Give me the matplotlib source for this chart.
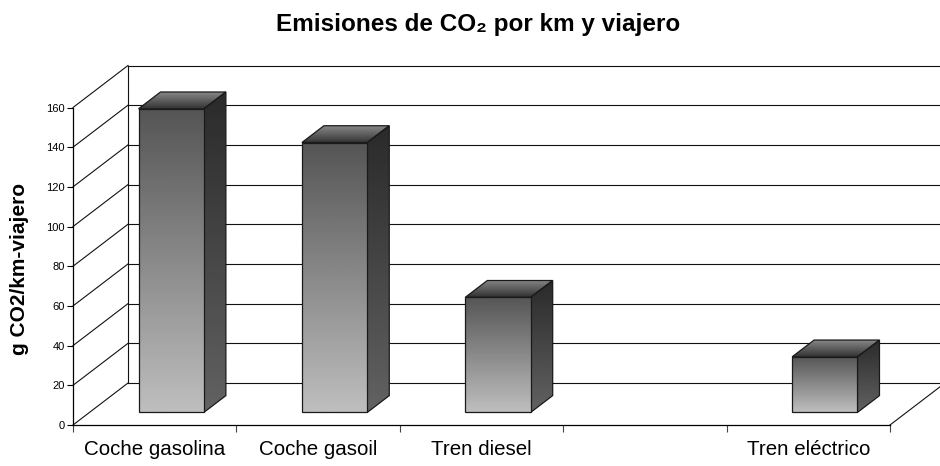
import numpy as np
import matplotlib
matplotlib.use("Agg")
import matplotlib.pyplot as plt
from matplotlib.patches import Polygon

plt.rcParams['font.family'] = ['Liberation Sans', 'DejaVu Sans']

categories = ["Coche gasolina", "Coche gasoil", "Tren diesel", "", "Tren eléctrico"]
values = [153, 136, 58, 0, 28]
yticks = [0, 20, 40, 60, 80, 100, 120, 140, 160]

W, H = 940, 466
fig = plt.figure(figsize=(W / 100, H / 100), dpi=100)
ax = fig.add_axes([73 / W, 1 - 425 / H, 817 / W, 317.5 / H])
ax.set_xlim(0, 5)
ax.set_ylim(0, 160)
ax.patch.set_alpha(0)

# depth of the 3d box in data units
dx = 55 / 163.4
dy = 42 / (317.5 / 160)
bar_w = 0.4


def shade(poly, x0, x1, y0, y1, c_top, c_bot, z):
    grad = np.linspace(c_top, c_bot, 128).reshape(-1, 1)
    im = ax.imshow(grad, extent=[x0, x1, y0, y1], cmap='gray', vmin=0, vmax=255,
                   aspect='auto', zorder=z, origin='upper')
    p = Polygon(poly, closed=True, transform=ax.transData, fc='none', ec='none')
    ax.add_patch(p)
    p.set_clip_on(False)
    im.set_clip_box(fig.bbox)
    im.set_clip_path(p)
    ax.add_patch(Polygon(poly, closed=True, fc='none', ec='#1a1a1a', lw=0.9,
                         zorder=z + 0.5, clip_on=False))


# walls and grid
for v in yticks:
    ax.plot([0, dx], [v, v + dy], color='#111111', lw=0.8, zorder=1, clip_on=False)
    ax.plot([dx, 5 + dx], [v + dy, v + dy], color='#111111', lw=0.8, zorder=1, clip_on=False)
ax.plot([dx, dx], [dy, 160 + dy], color='#111111', lw=0.8, zorder=1, clip_on=False)
ax.plot([5, 5 + dx], [0, dy], color='#111111', lw=0.8, zorder=1, clip_on=False)

# bars
for i, v in enumerate(values):
    if v == 0:
        continue
    x0 = i + 0.3 + 0.3 * dx
    x1 = x0 + bar_w
    b = 0.3 * dy
    t = b + v
    ox, oy = 0.4 * dx, 0.4 * dy
    shade([(x0, t), (x1, t), (x1 + ox, t + oy), (x0 + ox, t + oy)],
          x0, x1 + ox, t, t + oy, 135, 50, 3)
    shade([(x1, b), (x1 + ox, b + oy), (x1 + ox, t + oy), (x1, t)],
          x1, x1 + ox, b, t + oy, 42, 98, 3)
    shade([(x0, b), (x1, b), (x1, t), (x0, t)],
          x0, x1, b, t, 85, 190, 4)

ax.set_xlim(0, 5)
ax.set_ylim(0, 160)

ax.set_xticks(range(6))
ax.set_xticklabels([])
ax.set_yticks(yticks)
ax.tick_params(axis='y', labelsize=8, length=4, width=0.8, pad=2)
ax.tick_params(axis='x', length=5, width=0.8, color='#444444')
for s in ['top', 'right']:
    ax.spines[s].set_visible(False)
for s in ['left', 'bottom']:
    ax.spines[s].set_linewidth(0.9)
for i, c in enumerate(categories):
    ax.text(i + 0.5, -12.5, c, ha='center', va='center', fontsize=14.8, color='black')

fig.text(478.5 / W, 1 - 24 / H, "Emisiones de CO₂ por km y viajero", ha='center', va='center',
         fontsize=17.5, fontweight='bold')
fig.text(20 / W, 1 - 268.5 / H, "g CO2/km-viajero", rotation=90, ha='center', va='center',
         fontsize=15, fontweight='bold')

fig.savefig("out.png", dpi=100)
